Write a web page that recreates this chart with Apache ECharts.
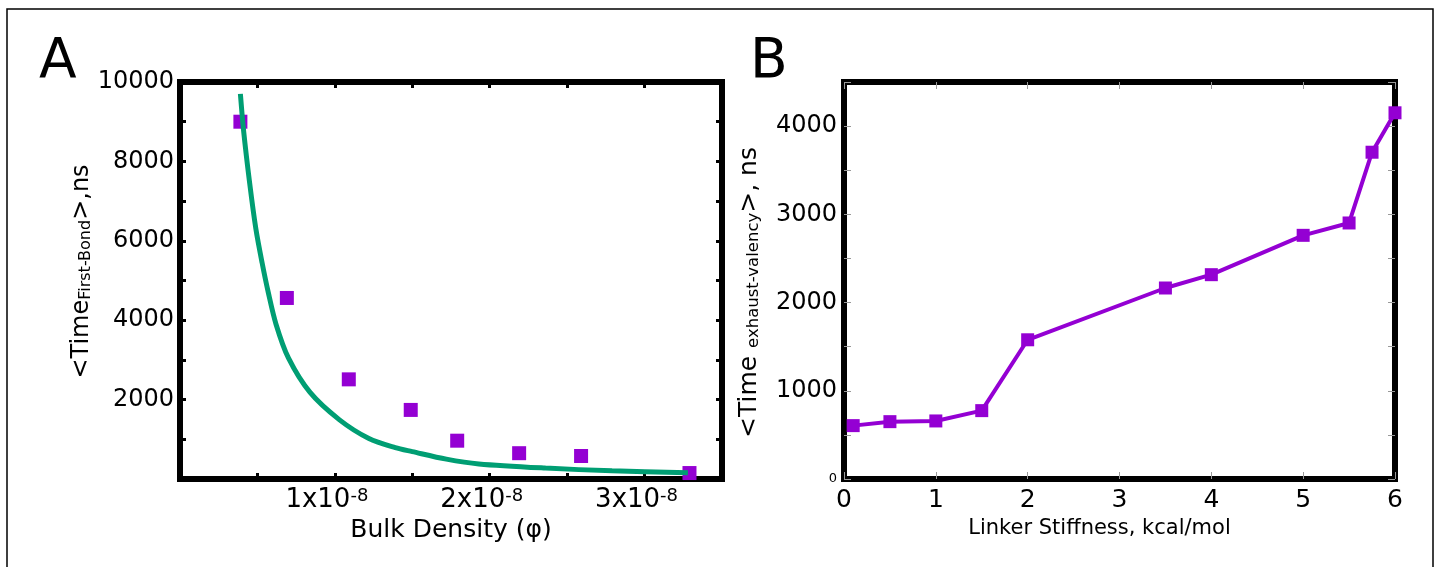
<!DOCTYPE html>
<html>
<head>
<meta charset="utf-8">
<script src="https://cdn.jsdelivr.net/npm/echarts@6/dist/echarts.min.js"></script>
<style>
  html, body { margin: 0; padding: 0; background: #fff; }
  #main { width: 1437px; height: 567px; }
</style>
</head>
<body>
<div id="main"></div>
<script>
// ---------- panel A : first bond time vs bulk density (x in units of 1e-8) ----------
var densityE8 = [0.39, 0.69, 1.09, 1.49, 1.79, 2.19, 2.59, 3.29];
var timeFirstBond = [9000, 4560, 2510, 1740, 965, 650, 580, 150];
// fitted curve
var fitDensityE8 = [0.39, 0.41, 0.45, 0.49, 0.53, 0.57, 0.62, 0.70, 0.84, 1.03, 1.22, 1.39, 1.50, 1.72, 1.93, 2.36, 2.79, 3.28];
var fitTime = [9700, 8800, 7450, 6300, 5450, 4700, 3900, 3050, 2180, 1490, 1020, 790, 690, 500, 380, 275, 205, 160];

// ---------- panel B : exhaust valency time vs linker stiffness ----------
var stiffness = [0.1, 0.5, 1, 1.5, 2, 3.5, 4, 5, 5.5, 5.75, 6];
var timeExhaust = [605, 650, 658, 775, 1578, 2165, 2316, 2762, 2902, 3704, 4151];

var FONT = 'DejaVu Sans';
var PURPLE = '#9400d3';
var GREEN = '#009e73';

var chart = echarts.init(document.getElementById('main'));

function zip(xs, ys) {
    var out = [];
    for (var i = 0; i < xs.length; i++) out.push([xs[i], ys[i]]);
    return out;
}

// thick black frame lines, ticks pointing into the plot
var lineBlack = { show: true, onZero: false, lineStyle: { color: '#000', width: 6, cap: 'square' } };
var tickA = { show: true, inside: true, length: 6, lineStyle: { color: '#000', width: 3 } };
var tickB = { show: true, inside: true, length: 7, lineStyle: { color: '#999', width: 1 } };

var option = {
    animation: false,
    backgroundColor: '#fff',
    textStyle: { fontFamily: FONT },
    grid: [
        { left: 180, top: 82, width: 542, height: 397, containLabel: false },
        { left: 844, top: 82, width: 551, height: 397, containLabel: false }
    ],
    xAxis: [
        {
            gridIndex: 0, type: 'value', position: 'bottom', min: 0, max: 3.5, interval: 0.5,
            axisLine: lineBlack, axisTick: tickA, splitLine: { show: false },
            axisLabel: {
                margin: 8, color: '#000', fontFamily: FONT, fontSize: 26, padding: [0, 16, 0, 0],
                formatter: function (v) {
                    var k = Math.round(v * 2);
                    if (k > 0 && k % 2 === 0 && k < 7) return '{b|' + (k / 2) + 'x10}{s|-8}';
                    return '';
                },
                rich: {
                    b: { fontSize: 26, fontFamily: FONT, color: '#000' },
                    s: { fontSize: 18, fontFamily: FONT, color: '#000', verticalAlign: 'top', lineHeight: 12 }
                }
            },
            name: 'Bulk Density (\u03c6)', nameLocation: 'middle', nameGap: 31,
            nameTextStyle: { fontSize: 25, fontFamily: FONT, color: '#000' }
        },
        {
            gridIndex: 0, type: 'value', position: 'top', min: 0, max: 3.5, interval: 0.5,
            axisLine: lineBlack, axisTick: tickA, splitLine: { show: false }, axisLabel: { show: false }
        },
        {
            gridIndex: 1, type: 'value', position: 'bottom', min: 0, max: 6, interval: 1,
            axisLine: lineBlack, axisTick: tickB, splitLine: { show: false },
            axisLabel: { margin: 9, color: '#000', fontFamily: FONT, fontSize: 25 },
            name: 'Linker Stiffness, kcal/mol', nameLocation: 'middle', nameGap: 30,
            nameTextStyle: { fontSize: 21, fontFamily: FONT, color: '#000', padding: [0, 40, 0, 0] }
        },
        {
            gridIndex: 1, type: 'value', position: 'top', min: 0, max: 6, interval: 1,
            axisLine: lineBlack, axisTick: tickB, splitLine: { show: false }, axisLabel: { show: false }
        }
    ],
    yAxis: [
        {
            gridIndex: 0, type: 'value', position: 'left', min: 0, max: 10000, interval: 1000,
            axisLine: lineBlack, axisTick: tickA, splitLine: { show: false },
            axisLabel: {
                margin: 6, color: '#000', fontFamily: FONT, fontSize: 24,
                formatter: function (v) { return (v > 0 && v % 2000 === 0) ? String(v) : ''; }
            },
            name: '{m|<Time}{s|First-Bond}{m|>,ns}', nameLocation: 'middle', nameGap: 75, nameRotate: 90,
            nameTextStyle: {
                color: '#000', fontFamily: FONT, padding: [0, 0, 0, 18],
                rich: {
                    m: { fontSize: 24, fontFamily: FONT, color: '#000', verticalAlign: 'bottom' },
                    s: { fontSize: 16, fontFamily: FONT, color: '#000', verticalAlign: 'bottom', lineHeight: 14 }
                }
            }
        },
        {
            gridIndex: 0, type: 'value', position: 'right', min: 0, max: 10000, interval: 1000,
            axisLine: lineBlack, axisTick: tickA, splitLine: { show: false }, axisLabel: { show: false }
        },
        {
            gridIndex: 1, type: 'value', position: 'left', min: 0, max: 4500, interval: 500,
            axisLine: lineBlack, axisTick: tickB, splitLine: { show: false },
            axisLabel: {
                margin: 7, color: '#000', fontFamily: FONT, fontSize: 24,
                formatter: function (v) {
                    if (v === 0) return '{z|0}';
                    return v % 1000 === 0 ? String(v) : '';
                },
                rich: { z: { fontSize: 13, fontFamily: FONT, color: '#000' } }
            },
            name: '{m|<Time }{s|exhaust-valency}{m|>, ns}', nameLocation: 'middle', nameGap: 82, nameRotate: 90,
            nameTextStyle: {
                color: '#000', fontFamily: FONT, padding: [0, 24, 0, 0],
                rich: {
                    m: { fontSize: 25, fontFamily: FONT, color: '#000', verticalAlign: 'bottom' },
                    s: { fontSize: 16.5, fontFamily: FONT, color: '#000', verticalAlign: 'bottom', lineHeight: 10 }
                }
            }
        },
        {
            gridIndex: 1, type: 'value', position: 'right', min: 0, max: 4500, interval: 500,
            axisLine: lineBlack, axisTick: tickB, splitLine: { show: false }, axisLabel: { show: false }
        }
    ],
    series: [
        {
            type: 'scatter', xAxisIndex: 0, yAxisIndex: 0,
            symbol: 'rect', symbolSize: 14,
            itemStyle: { color: PURPLE, opacity: 1 },
            data: zip(densityE8, timeFirstBond)
        },
        {
            type: 'line', xAxisIndex: 0, yAxisIndex: 0,
            showSymbol: false, smooth: 0.3,
            lineStyle: { color: GREEN, width: 5 },
            data: zip(fitDensityE8, fitTime)
        },
        {
            type: 'line', xAxisIndex: 2, yAxisIndex: 2,
            symbol: 'rect', symbolSize: 13, showSymbol: true,
            lineStyle: { color: PURPLE, width: 4 },
            itemStyle: { color: PURPLE },
            data: zip(stiffness, timeExhaust)
        }
    ],
    graphic: [
        { type: 'rect', shape: { x: 7, y: 9, width: 1426, height: 600 }, style: { fill: 'none', stroke: '#000', lineWidth: 1.5 }, silent: true },
        { type: 'text', x: 39, y: 63, style: { text: 'A', fontSize: 55, fontFamily: FONT, fill: '#000', verticalAlign: 'middle' } },
        { type: 'text', x: 750, y: 63, style: { text: 'B', fontSize: 55, fontFamily: FONT, fill: '#000', verticalAlign: 'middle' } }
    ]
};

chart.setOption(option);
</script>
</body>
</html>
